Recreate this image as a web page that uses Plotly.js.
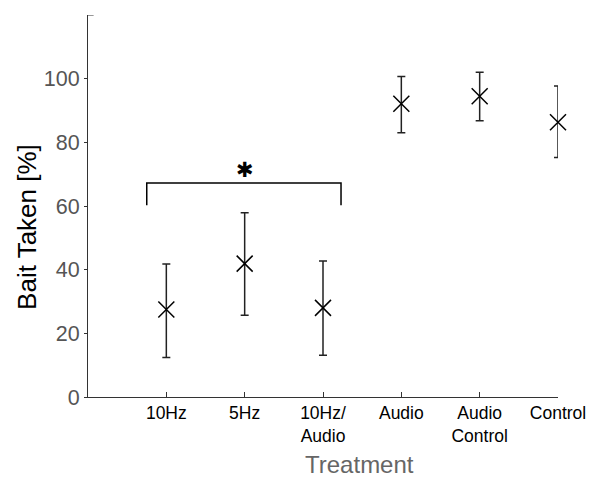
<!DOCTYPE html>
<html>
<head>
<meta charset="utf-8">
<script src="https://cdn.plot.ly/plotly-3.0.1.min.js"></script>
<style>html,body{margin:0;padding:0;background:#fff;}#chart{width:594px;height:480px;}</style>
</head>
<body>
<div id="chart"></div>
<script>
var categories = ["10Hz", "5Hz", "10Hz/<br>Audio", "Audio", "Audio<br>Control", "Control"];
var positions = [1, 2, 3, 4, 5, 6];
var means = [27.5, 41.9, 28.0, 92.1, 94.5, 86.3];
var upper = [41.8, 57.9, 42.7, 100.7, 102.0, 97.7];
var lower = [12.4, 25.7, 13.1, 83.0, 86.8, 75.2];
var bracketX = [0.75, 0.75, 3.23, 3.23];
var bracketY = [60.2, 67.2, 67.2, 60.2];
var starPos = [2, 71.3];
var xTitle = 'Treatment';
var yTitle = 'Bait Taken [%]';

var errPlus = means.map(function(m, i){ return upper[i] - m; });
var errMinus = means.map(function(m, i){ return m - lower[i]; });

var traces = [
  {
    x: positions, y: means, type: 'scatter', mode: 'markers', cliponaxis: false,
    marker: {symbol: 'x-thin-open', size: 16, color: '#000', line: {width: 1.5, color: '#000'}},
    error_y: {type: 'data', symmetric: false, array: errPlus, arrayminus: errMinus,
              color: '#222', thickness: 1.5, width: 4},
    hoverinfo: 'skip', showlegend: false
  },
  {
    x: bracketX, y: bracketY, type: 'scatter', mode: 'lines', cliponaxis: false,
    line: {color: '#000', width: 1.5}, hoverinfo: 'skip', showlegend: false
  }
];

var layout = {
  width: 594, height: 480,
  margin: {l: 88, r: 36, t: 15, b: 83},
  paper_bgcolor: '#fff', plot_bgcolor: '#fff',
  showlegend: false,
  font: {family: 'Liberation Sans, Arial, sans-serif'},
  xaxis: {
    range: [0, 6], tickmode: 'array', tickvals: positions, ticktext: categories,
    ticks: 'inside', ticklen: 5, tickcolor: '#333', tickwidth: 1,
    showline: true, linecolor: '#333', linewidth: 1,
    showgrid: false, zeroline: false,
    tickfont: {size: 17.5, color: '#000'}
  },
  yaxis: {
    range: [0, 120], tickmode: 'array', tickvals: [0, 20, 40, 60, 80, 100],
    ticks: 'outside', ticklen: 3, tickcolor: '#333', tickwidth: 1,
    showline: true, linecolor: '#333', linewidth: 1,
    showgrid: false, zeroline: false,
    tickfont: {size: 21.5, color: '#555'}
  },
  shapes: [
    {type: 'line', xref: 'paper', yref: 'y', x0: 0, x1: 0.012, y0: 120, y1: 120,
     line: {color: '#333', width: 1}}
  ],
  annotations: [
    {x: starPos[0], y: starPos[1], xref: 'x', yref: 'y', text: '✱', showarrow: false,
     font: {family: 'DejaVu Sans', size: 21, color: '#000'}},
    {x: 0.5787, y: -0.2147, xref: 'paper', yref: 'paper', text: xTitle, showarrow: false,
     xanchor: 'center', yanchor: 'bottom', borderpad: 0, font: {size: 24, color: '#666'}},
    {x: -0.13, y: 0.445, xref: 'paper', yref: 'paper', text: yTitle, showarrow: false,
     textangle: -90, xanchor: 'center', yanchor: 'middle', font: {size: 26, color: '#000'}}
  ]
};

Plotly.newPlot('chart', traces, layout, {displayModeBar: false, staticPlot: true});
</script>
</body>
</html>
